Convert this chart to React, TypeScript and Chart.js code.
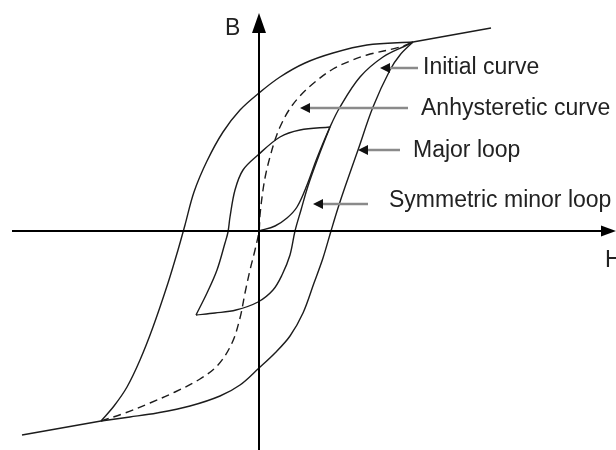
import { useEffect, useRef } from "react";
import { Chart, registerables } from "chart.js";

Chart.register(...registerables);

type Pt = [number, number];

// Field strength H (x) and flux density B (y), arbitrary units.
const saturationUpper: Pt[] = [[7.7, 9.45], [11.6, 10.15]];
const saturationLower: Pt[] = [[-7.9, -9.5], [-11.85, -10.2]];

const majorDescending: Pt[] = [
  [7.7, 9.45], [5.4, 9.3], [3.7, 8.9], [2.3, 8.4], [1.05, 7.7], [0.0, 6.9],
  [-0.95, 6.05], [-1.8, 4.95], [-2.6, 3.5], [-3.25, 1.95], [-3.7, 0.3],
  [-4.05, -0.95], [-4.55, -2.6], [-5.3, -4.8], [-5.95, -6.45], [-6.6, -7.8],
  [-7.25, -8.75], [-7.9, -9.5],
];

const majorAscending: Pt[] = [
  [-7.9, -9.5], [-6.45, -9.3], [-5.1, -9.1], [-3.45, -8.75], [-1.95, -8.25],
  [-0.95, -7.7], [0.0, -6.85], [0.8, -6.1], [1.55, -5.25], [2.2, -4.1],
  [2.75, -2.6], [3.2, -1.35], [3.6, 0.0], [3.95, 1.15], [4.3, 2.2],
  [4.95, 4.05], [5.7, 6.2], [6.55, 8.05], [7.05, 8.8], [7.7, 9.45],
];

const anhysteretic: Pt[] = [
  [-7.9, -9.5], [-6.7, -9.1], [-5.45, -8.6], [-4.2, -8.05], [-2.95, -7.4],
  [-2.05, -6.7], [-1.35, -5.6], [-0.95, -4.35], [-0.7, -3.1], [-0.45, -1.95],
  [-0.2, -0.95], [0.0, 0.0], [0.05, 0.8], [0.2, 2.05], [0.35, 2.9],
  [0.55, 3.7], [0.8, 4.55], [1.05, 5.2], [1.5, 6.05], [2.05, 6.75],
  [2.8, 7.45], [3.7, 8.1], [4.55, 8.5], [5.4, 8.8], [7.05, 9.2], [7.7, 9.45],
];

const initialCurve: Pt[] = [
  [0.0, 0.0], [0.8, 0.25], [1.4, 0.65], [1.9, 1.2], [2.4, 2.3], [2.9, 3.65],
  [3.55, 5.2], [4.05, 6.2], [5.05, 7.7], [6.2, 8.7], [7.4, 9.3], [7.7, 9.45],
];

const minorDescending: Pt[] = [
  [3.55, 5.2], [2.05, 5.05], [1.05, 4.7], [-0.05, 3.8], [-0.8, 3.05],
  [-1.2, 2.05], [-1.45, 0.7], [-1.55, -0.05], [-1.7, -0.6], [-2.1, -1.95],
  [-2.6, -3.1], [-3.15, -4.2],
];

const minorAscending: Pt[] = [
  [-3.15, -4.2], [-2.2, -4.1], [-1.15, -3.95], [-0.05, -3.55], [0.7, -2.95],
  [1.15, -2.2], [1.55, -1.2], [1.8, 0.0], [2.1, 1.05], [2.45, 2.25],
  [2.95, 3.65], [3.55, 5.2],
];

// Axis extents
const hAxis: Pt[] = [[-12.35, 0], [17.2, 0]];
const bAxis: Pt[] = [[0, 9.9], [0, -10.95]];
const hAxisTip: Pt = [17.85, 0];
const bAxisTip: Pt = [0, 10.9];

const axisTitles = [
  { text: "B", at: [-1.7, 9.8] as Pt },
  { text: "H", at: [17.3, -1.8] as Pt },
];

// Callouts: label text, text anchor (baseline), pointer tail and tip
const callouts = [
  { text: "Initial curve", at: [8.2, 7.85] as Pt, tail: [7.95, 8.15] as Pt, tip: [6.05, 8.15] as Pt },
  { text: "Anhysteretic curve", at: [8.1, 5.8] as Pt, tail: [7.45, 6.15] as Pt, tip: [2.05, 6.15] as Pt },
  { text: "Major loop", at: [7.7, 3.7] as Pt, tail: [7.05, 4.05] as Pt, tip: [4.95, 4.05] as Pt },
  { text: "Symmetric minor loop", at: [6.5, 1.2] as Pt, tail: [5.45, 1.35] as Pt, tip: [2.7, 1.35] as Pt },
];

const toXY = (pts: Pt[]) => pts.map(([x, y]) => ({ x, y }));

function arrowhead(
  ctx: CanvasRenderingContext2D,
  tx: number, ty: number, dx: number, dy: number, len: number, width: number,
) {
  const bx = tx - dx * len;
  const by = ty - dy * len;
  const nx = -dy;
  const ny = dx;
  ctx.beginPath();
  ctx.moveTo(tx, ty);
  ctx.lineTo(bx + nx * width / 2, by + ny * width / 2);
  ctx.lineTo(bx - nx * width / 2, by - ny * width / 2);
  ctx.closePath();
  ctx.fill();
}

const overlay = {
  id: "overlay",
  afterDatasetsDraw(chart: any) {
    const { ctx } = chart;
    const xs = chart.scales.x;
    const ys = chart.scales.y;
    const px = (v: number) => xs.getPixelForValue(v);
    const py = (v: number) => ys.getPixelForValue(v);
    ctx.save();

    // axis arrowheads
    ctx.fillStyle = "#000";
    arrowhead(ctx, px(bAxisTip[0]), py(bAxisTip[1]), 0, -1, 20, 14);
    arrowhead(ctx, px(hAxisTip[0]), py(hAxisTip[1]), 1, 0, 15, 11);

    // callout pointers
    for (const c of callouts) {
      const tx = px(c.tip[0]);
      const ty = py(c.tip[1]);
      const sx = px(c.tail[0]);
      ctx.strokeStyle = "#8a8a8a";
      ctx.lineWidth = 2.5;
      ctx.beginPath();
      ctx.moveTo(sx, ty);
      ctx.lineTo(tx + 8, ty);
      ctx.stroke();
      ctx.fillStyle = "#111";
      arrowhead(ctx, tx, ty, -1, 0, 10, 10);
    }

    // text
    ctx.font = '23px "Liberation Sans", Arial, sans-serif';
    ctx.textAlign = "left";
    ctx.textBaseline = "alphabetic";
    ctx.fillStyle = "#222";
    for (const c of callouts) ctx.fillText(c.text, px(c.at[0]), py(c.at[1]));
    for (const t of axisTitles) ctx.fillText(t.text, px(t.at[0]), py(t.at[1]));

    ctx.restore();
  },
};

export default function App() {
  const ref = useRef<HTMLCanvasElement | null>(null);

  useEffect(() => {
    if (!ref.current) return;
    const curve = (data: Pt[], extra: any = {}) => ({
      data: toXY(data),
      showLine: true,
      borderColor: "#1c1c1c",
      borderWidth: 1.4,
      pointRadius: 0,
      tension: 0.35,
      fill: false,
      ...extra,
    });
    const chart = new Chart(ref.current, {
      type: "scatter",
      data: {
        datasets: [
          curve(hAxis, { borderColor: "#000", borderWidth: 2, tension: 0 }),
          curve(bAxis, { borderColor: "#000", borderWidth: 2, tension: 0 }),
          curve(saturationUpper, { tension: 0 }),
          curve(saturationLower, { tension: 0 }),
          curve(majorDescending),
          curve(majorAscending),
          curve(anhysteretic, { borderDash: [8, 5] }),
          curve(initialCurve),
          curve(minorDescending),
          curve(minorAscending),
        ],
      },
      options: {
        animation: false,
        responsive: false,
        devicePixelRatio: 1,
        layout: { padding: 0 },
        events: [],
        scales: {
          x: { type: "linear", min: -12.95, max: 17.85, display: false },
          y: { type: "linear", min: -10.95, max: 11.55, display: false },
        },
        plugins: {
          legend: { display: false },
          tooltip: { enabled: false },
        },
      },
      plugins: [overlay],
    });
    return () => chart.destroy();
  }, []);

  return (
    <div style={{ position: "fixed", left: 0, top: 0, width: 616, height: 450, background: "#fff" }}>
      <canvas ref={ref} width={616} height={450} style={{ display: "block" }} />
    </div>
  );
}
